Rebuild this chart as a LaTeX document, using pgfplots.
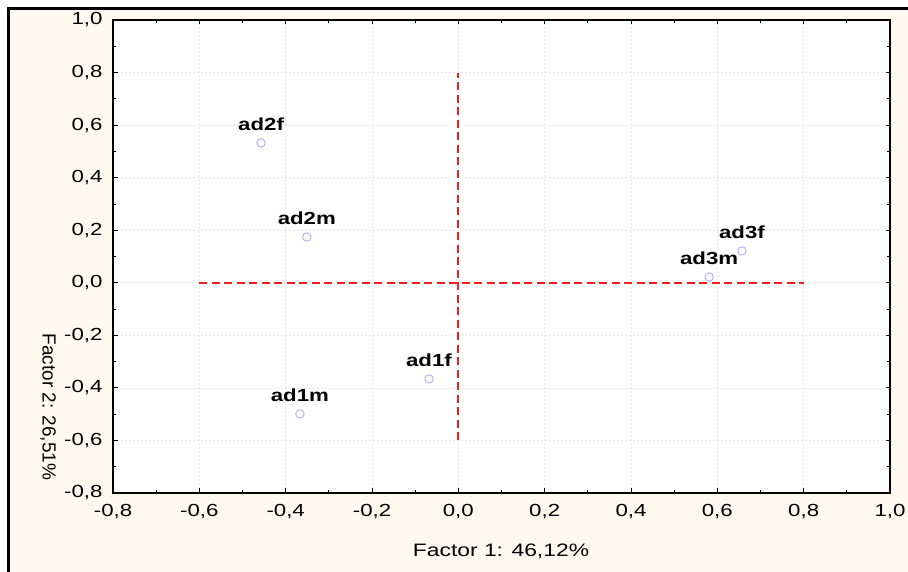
\documentclass[border=0pt]{standalone}
\usepackage{pgfplots}
\pgfplotsset{compat=1.18}
\usepackage{pgfplotstable}
\usepackage{fontspec}
\setmainfont{Liberation Sans}[FakeStretch=1.27]
\newfontfamily\ylabfont{Liberation Sans}
\definecolor{bgcream}{RGB}{253,249,239}
\definecolor{markblue}{RGB}{175,175,245}
\definecolor{dashred}{RGB}{240,30,30}

% factor coordinates of the six groups
\pgfplotstableread{
x      y      label
-0.457  0.532 ad2f
-0.351  0.174 ad2m
 0.657  0.121 ad3f
 0.581  0.022 ad3m
-0.068 -0.366 ad1f
-0.367 -0.499 ad1m
}\pointdata

\begin{document}
\begin{tikzpicture}
  \useasboundingbox (0,0) rectangle (908pt,572pt);
  \fill[white] (0,0) rectangle (908pt,572pt);
  \fill[bgcream] (8.5pt,0) rectangle (908pt,563.5pt);
  \draw[line width=3pt] (8.5pt,0) -- (8.5pt,563.5pt) -- (908pt,563.5pt);

  \begin{axis}[
      at={(113pt,79pt)}, anchor=south west,
      scale only axis,
      width=777pt, height=473pt,
      xmin=-0.8, xmax=1.0, ymin=-0.8, ymax=1.0,
      xtick={-0.8,-0.6,-0.4,-0.2,0,0.2,0.4,0.6,0.8,1.0},
      ytick={-0.8,-0.6,-0.4,-0.2,0,0.2,0.4,0.6,0.8,1.0},
      minor tick num=1,
      tick align=inside,
      major tick length=4.5pt,
      minor tick length=3pt,
      tick style={black, line width=0.8pt},
      axis line style={black, line width=1.4pt},
      axis background/.style={fill=white},
      grid=major,
      major grid style={dash pattern=on 1.5pt off 2.5pt, gray!18, line width=0.7pt},
      tick label style={font=\fontsize{17.5}{17.5}\selectfont},
      /pgf/number format/fixed,
      /pgf/number format/fixed zerofill,
      /pgf/number format/precision=1,
      /pgf/number format/use comma,
      /pgf/number format/assume math mode=true,
      xticklabel style={yshift=-8pt},
      yticklabel style={xshift=-7pt},
      clip=false,
    ]
    \addplot[dashred, line width=2pt, dash pattern=on 8pt off 4.5pt]
      coordinates {(-0.6,0) (0.8,0)};
    \addplot[dashred, line width=2pt, dash pattern=on 8pt off 4.5pt]
      coordinates {(0,-0.6) (0,0.8)};
    \addplot[only marks, mark=o, mark size=4.2pt,
      mark options={draw=markblue, line width=0.9pt},
      nodes near coords, point meta=explicit symbolic,
      nodes near coords align={anchor=south},
      every node near coord/.append style={font=\bfseries\fontsize{17.5}{17.5}\selectfont,
        black, inner sep=0pt, yshift=12pt}]
      table[x=x, y=y, meta=label] {\pointdata};
  \end{axis}

  \node[font=\fontsize{18}{18}\selectfont] at (501pt,21pt) {Factor 1: 46,12\%};
  \node[font=\ylabfont\fontsize{19}{19}\selectfont, rotate=-90] at (48pt,165pt) {Factor 2: 26,51\%};
\end{tikzpicture}
\end{document}
